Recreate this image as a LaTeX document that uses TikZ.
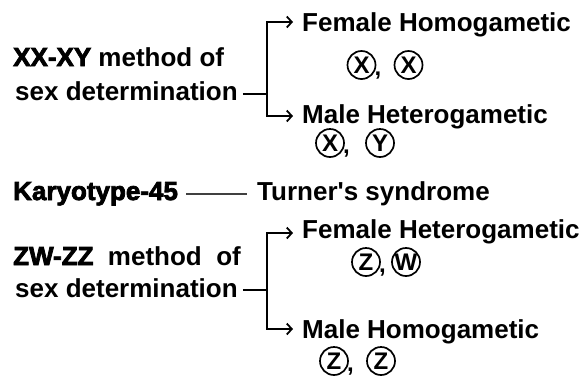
\documentclass[tikz,border=0pt]{standalone}
\usepackage{fontspec}
\setmainfont{Liberation Sans}
\newfontfamily\heavyfont[FakeBold=3]{Liberation Sans Bold}
\usetikzlibrary{arrows.meta}
\begin{document}
\begin{tikzpicture}[x=1pt,y=-1pt,
  txt/.style={anchor=base west,inner sep=0pt,font=\fontsize{26}{30}\selectfont\bfseries},
  chr/.style={circle,draw,line width=1.7pt,minimum size=28pt,inner sep=0pt,font=\fontsize{24}{26}\selectfont\bfseries},
  cma/.style={anchor=base west,inner sep=0pt,font=\fontsize{24}{26}\selectfont\bfseries},
  conn/.style={line width=1.8pt},
  arr/.style={line width=1.8pt,-{Straight Barb[length=5pt,width=11pt,line width=1.8pt]}},
  thin/.style={line width=1.2pt,black!75}]
\useasboundingbox (0,0) rectangle (585,376);
% XX-XY group
\node[txt] (m1) at (13,66) {{\heavyfont XX-XY} method of};
\node[txt] (s1) at (15,100) {sex determination};
\node[txt] (fh) at (302,31) {Female Homogametic};
\node[txt] (mh) at (302,123) {Male Heterogametic};
\node[chr] (x1) at (361.5,65) {X};
\node[cma] (c1) at ([xshift=-2pt]x1.east |- 0,75) {,};
\node[chr] (x2) at (408.5,65) {X};
\node[chr] (x3) at (330,143) {X};
\node[cma] (c2) at ([xshift=-2pt]x3.east |- 0,153) {,};
\node[chr] (y1) at (380,143) {Y};
\coordinate (j1) at (267,94);
\coordinate (t1) at (267,22);
\coordinate (b1) at (267,116);
\draw[conn,shorten <=5pt] (s1.east |- j1) -- (j1);
\draw[arr,shorten >=9pt] (j1) -- (t1) -- (fh.west |- t1);
\draw[arr,shorten >=9pt] (j1) -- (b1) -- (mh.west |- b1);
% Karyotype
\node[txt] (k) at (13,200) {\heavyfont Karyotype-45};
\node[txt] (t) at (257,200) {Turner\textquotesingle s syndrome};
\coordinate (kl) at (0,194);
\draw[thin,shorten <=8pt,shorten >=10pt] (k.east |- kl) -- (t.west |- kl);
% ZW-ZZ group
\node[txt] (m2) at (13,265) {{\heavyfont ZW-ZZ} \ method \ of};
\node[txt] (s2) at (15,297) {sex determination};
\node[txt] (fe) at (302,238) {Female Heterogametic};
\node[txt] (mo) at (302,338) {Male Homogametic};
\node[chr] (z1) at (366,262) {Z};
\node[cma] (c3) at ([xshift=-2pt]z1.east |- 0,272) {,};
\node[chr] (w1) at (406,262) {W};
\node[chr] (z2) at (334,361) {Z};
\node[cma] (c4) at ([xshift=-2pt]z2.east |- 0,371) {,};
\node[chr] (z3) at (381,361) {Z};
\coordinate (j2) at (267,290);
\coordinate (t2) at (267,233);
\coordinate (b2) at (267,329);
\draw[conn,shorten <=5pt] (s2.east |- j2) -- (j2);
\draw[arr,shorten >=9pt] (j2) -- (t2) -- (fe.west |- t2);
\draw[arr,shorten >=9pt] (j2) -- (b2) -- (mo.west |- b2);
\end{tikzpicture}
\end{document}
